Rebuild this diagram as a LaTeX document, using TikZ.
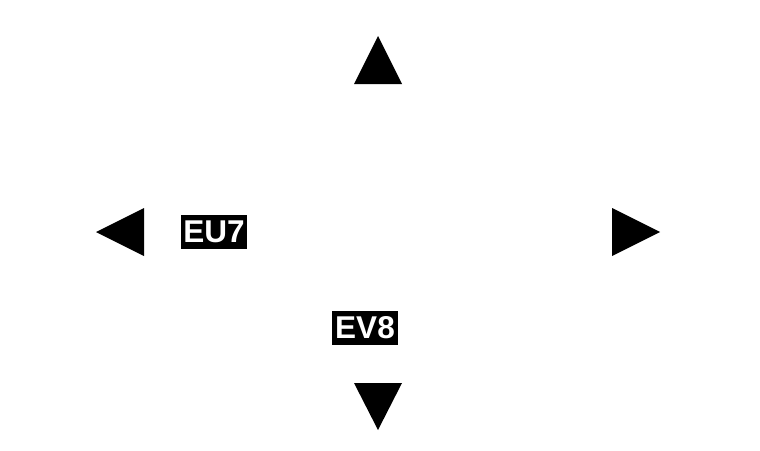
\documentclass[tikz,border=0pt]{standalone}
\usepackage{fontspec}
\setmainfont{Liberation Sans}
\begin{document}
\begin{tikzpicture}[x=1pt,y=-1pt,
  tri/.style={fill=black,draw=none},
  lbl/.style={fill=black,text=white,inner sep=0pt,minimum width=66pt,minimum height=34pt,font=\fontsize{31.5}{32}\selectfont\bfseries}]
\useasboundingbox (0,0) rectangle (760,450);
\fill[white] (0,0) rectangle (760,450);
% up
\path[tri] (378,36) -- (402,84) -- (354,84) -- cycle;
% left
\path[tri] (96,232) -- (144,208) -- (144,256) -- cycle;
% right
\path[tri] (660,232) -- (612,208) -- (612,256) -- cycle;
% down
\path[tri] (378,430) -- (402,383) -- (354,383) -- cycle;
\node[lbl] (eu7) at (214,232) {EU7};
\node[lbl] (ev8) at (365,328) {EV8};
\end{tikzpicture}
\end{document}
